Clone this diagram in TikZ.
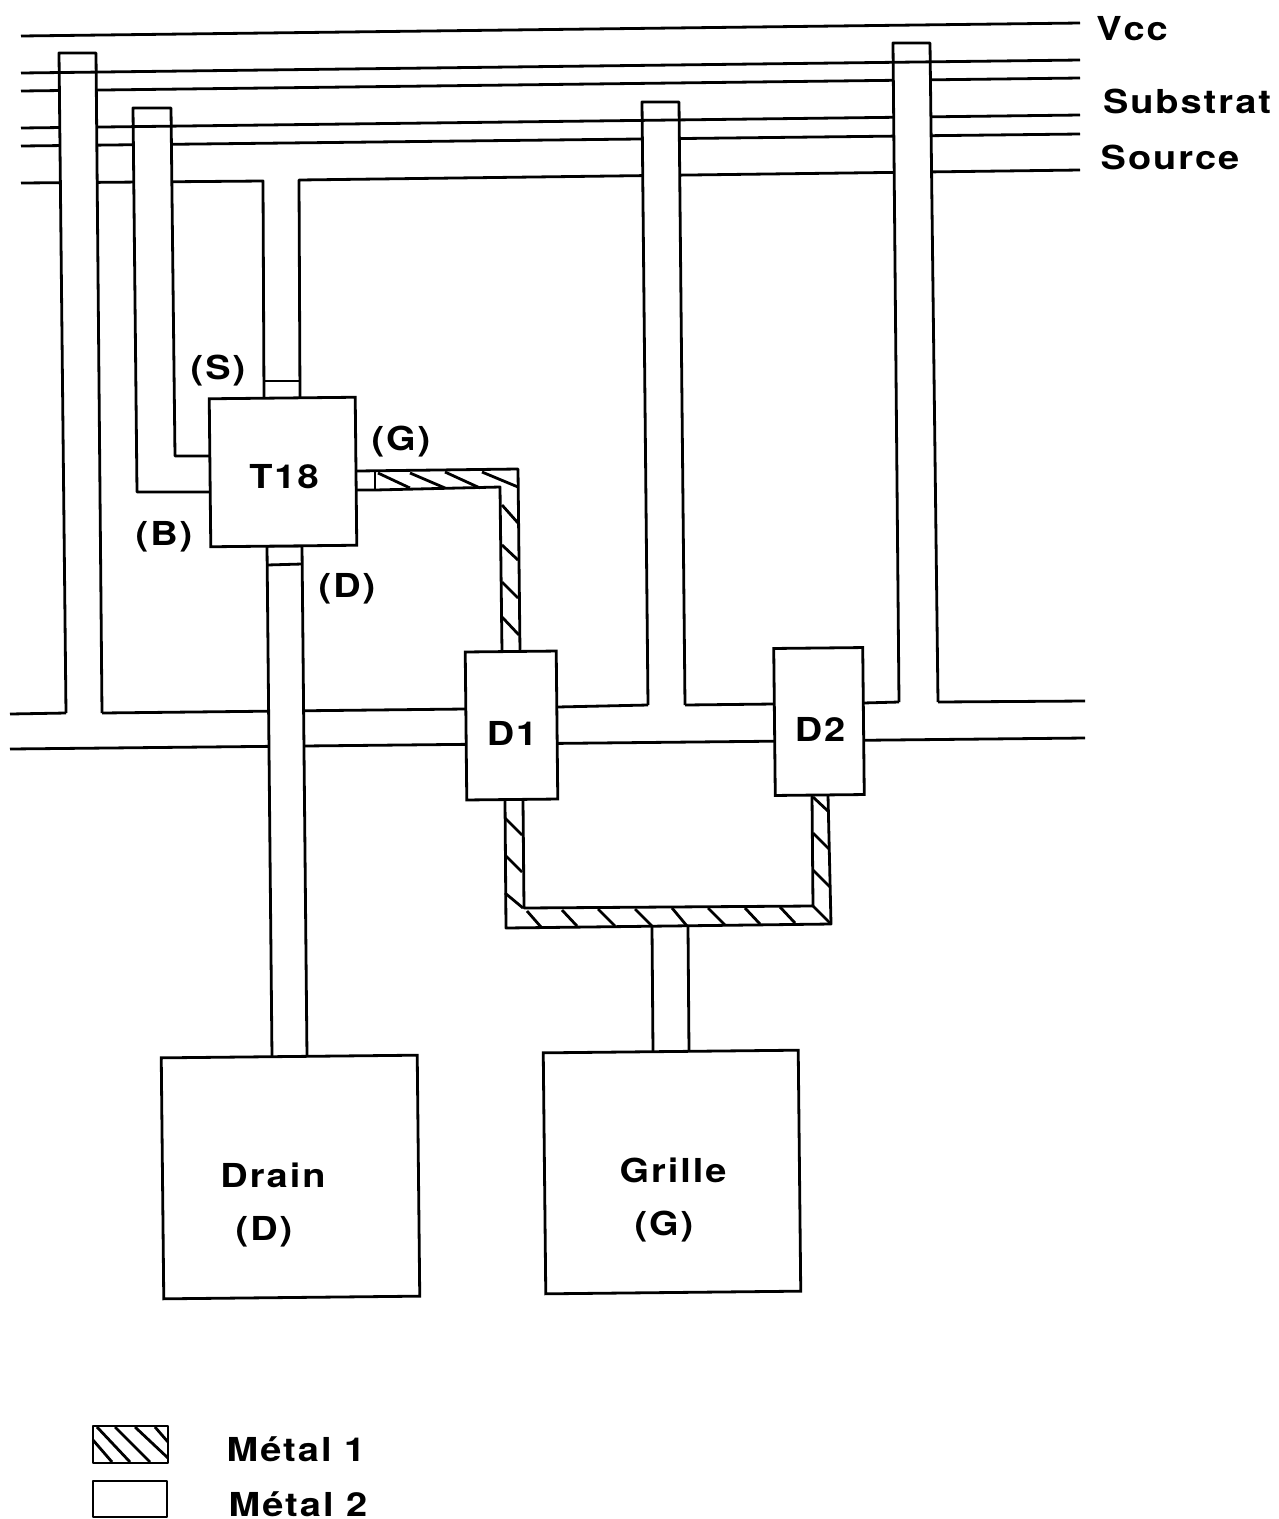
\documentclass[tikz,border=0pt]{standalone}
\usepackage{fontspec}
\newfontfamily\labelfont[FakeStretch=1.15,LetterSpace=6]{TeX Gyre Heros}
\tikzset{
  wire/.style={draw,line width=2.8pt,line join=round},
  metal/.style={wire,fill=white},
  pad/.style={draw,line width=2.8pt,fill=white,rectangle,rotate=0.6,inner sep=0pt},
  lbl/.style={inner sep=0pt,font=\labelfont\bfseries\fontsize{33}{38}\selectfont}
}

\begin{document}
\begin{tikzpicture}[x=1pt,y=-1pt]
  \useasboundingbox (0,0) rectangle (1279,1519);

  \draw[wire] (21,36) -- (1080,23);
  \draw[wire] (21,91) -- (1080,78);
  \draw[wire] (21,146) -- (1080,134);
  \draw[wire] (21,183) -- (263,181) -- (264,399);
  \draw[wire] (1080,170) -- (299,180) -- (300,399);
  \draw[wire] (264,381) -- (300,381);

  \draw[wire] (10,714) -- (66,713);
  \draw[wire] (102,713) -- (465,709);
  \draw[wire] (557,707) -- (648,705);
  \draw[wire] (685,705) -- (774,704);
  \draw[wire] (863,703) -- (899,702);
  \draw[wire] (938,702) -- (1085,701);
  \draw[wire] (10,749) -- (1085,738);

  \path[metal] (210,492) -- (137,492) -- (133,108) -- (171,108) -- (175,456) -- (210,456);
  \path[metal] (648,705) -- (642,102) -- (679,102) -- (685,705);
  \draw[wire] (21,128) -- (1080,115);
  \path[metal] (66,713) -- (59,53) -- (96,53) -- (102,713);
  \path[metal] (899,702) -- (893,43) -- (930,43) -- (938,702);
  \draw[wire] (21,73) -- (1080,60);

  \path[metal] (272,1057) -- (267,546) -- (302,546) -- (307,1057);
  \draw[wire] (267,565) -- (302,564);

  \draw[wire] (357,471) -- (518,469) -- (520,652);
  \draw[wire] (357,490) -- (375,490) -- (500,487) -- (502,652);
  \draw[wire] (375,472) -- (375,490);
  \foreach \xa/\ya/\xb/\yb in {378/473/410/488,410/473/445/488,445/472/480/488,482/472/518/487,
    502/505/518/523,502/545/518/560,502/582/518/598,502/617/519/635}
    \draw[wire] (\xa,\ya) -- (\xb,\yb);

  \draw[wire] (505,800) -- (506,928) -- (831,924) -- (828,795);
  \draw[wire] (523,800) -- (524,908) -- (813,906) -- (812,795);
  \foreach \xa/\ya/\xb/\yb in {505/818/522/835,505/855/522/872,505/893/523/908,
    527/911/541/927,562/910/577/926,598/909/615/926,635/909/652/926,672/908/687/926,
    708/908/725/925,745/908/760/924,780/907/795/923,813/906/831/924,
    813/797/829/812,813/833/829/849,813/870/830/887}
    \draw[wire] (\xa,\ya) -- (\xb,\yb);
  \draw[wire] (652,927) -- (653,1052);
  \draw[wire] (688,926) -- (689,1052);

  \node[pad,minimum width=146pt,minimum height=148pt] (t18) at (283,472) {};
  \node[pad,minimum width=91pt,minimum height=148pt] (d1) at (511.5,725.5) {};
  \node[pad,minimum width=89pt,minimum height=147pt] (d2) at (819,721.5) {};
  \node[pad,minimum width=256pt,minimum height=241pt] (drain) at (290.5,1177) {};
  \node[pad,minimum width=255pt,minimum height=241pt] (grille) at (672,1172) {};

  \node[lbl] (vcc) at (1132,29) {Vcc};
  \node[lbl] (substrat) at (1187,101) {Substrat};
  \node[lbl] (source) at (1170,157) {Source};
  \node[lbl] (ts) at (218,371) {(S)};
  \node[lbl] (tg) at (401,442) {(G)};
  \node[lbl] (tb) at (164,537) {(B)};
  \node[lbl] (td) at (347,589) {(D)};
  \node[lbl] (t18txt) at (284,477) {T18};
  \node[lbl] (d1txt) at (512,733) {D1};
  \node[lbl] (d2txt) at (820,729) {D2};
  \node[lbl] (draintxt) at (273,1175) {Drain};
  \node[lbl] (draind) at (264,1232) {(D)};
  \node[lbl] (grilletxt) at (673,1170) {Grille};
  \node[lbl] (grilleg) at (664,1227) {(G)};

  \draw[wire] (93,1426) rectangle (168,1463);
  \foreach \xa/\ya/\xb/\yb in {93/1440/112/1462,97/1427/130/1462,115/1427/150/1462,135/1427/168/1458,155/1427/168/1442}
    \draw[wire] (\xa,\ya) -- (\xb,\yb);
  \draw[wire] (93,1481) rectangle (167,1517);
  \node[lbl] (metal1) at (296,1449) {Métal 1};
  \node[lbl] (metal2) at (298,1504) {Métal 2};
\end{tikzpicture}
\end{document}
